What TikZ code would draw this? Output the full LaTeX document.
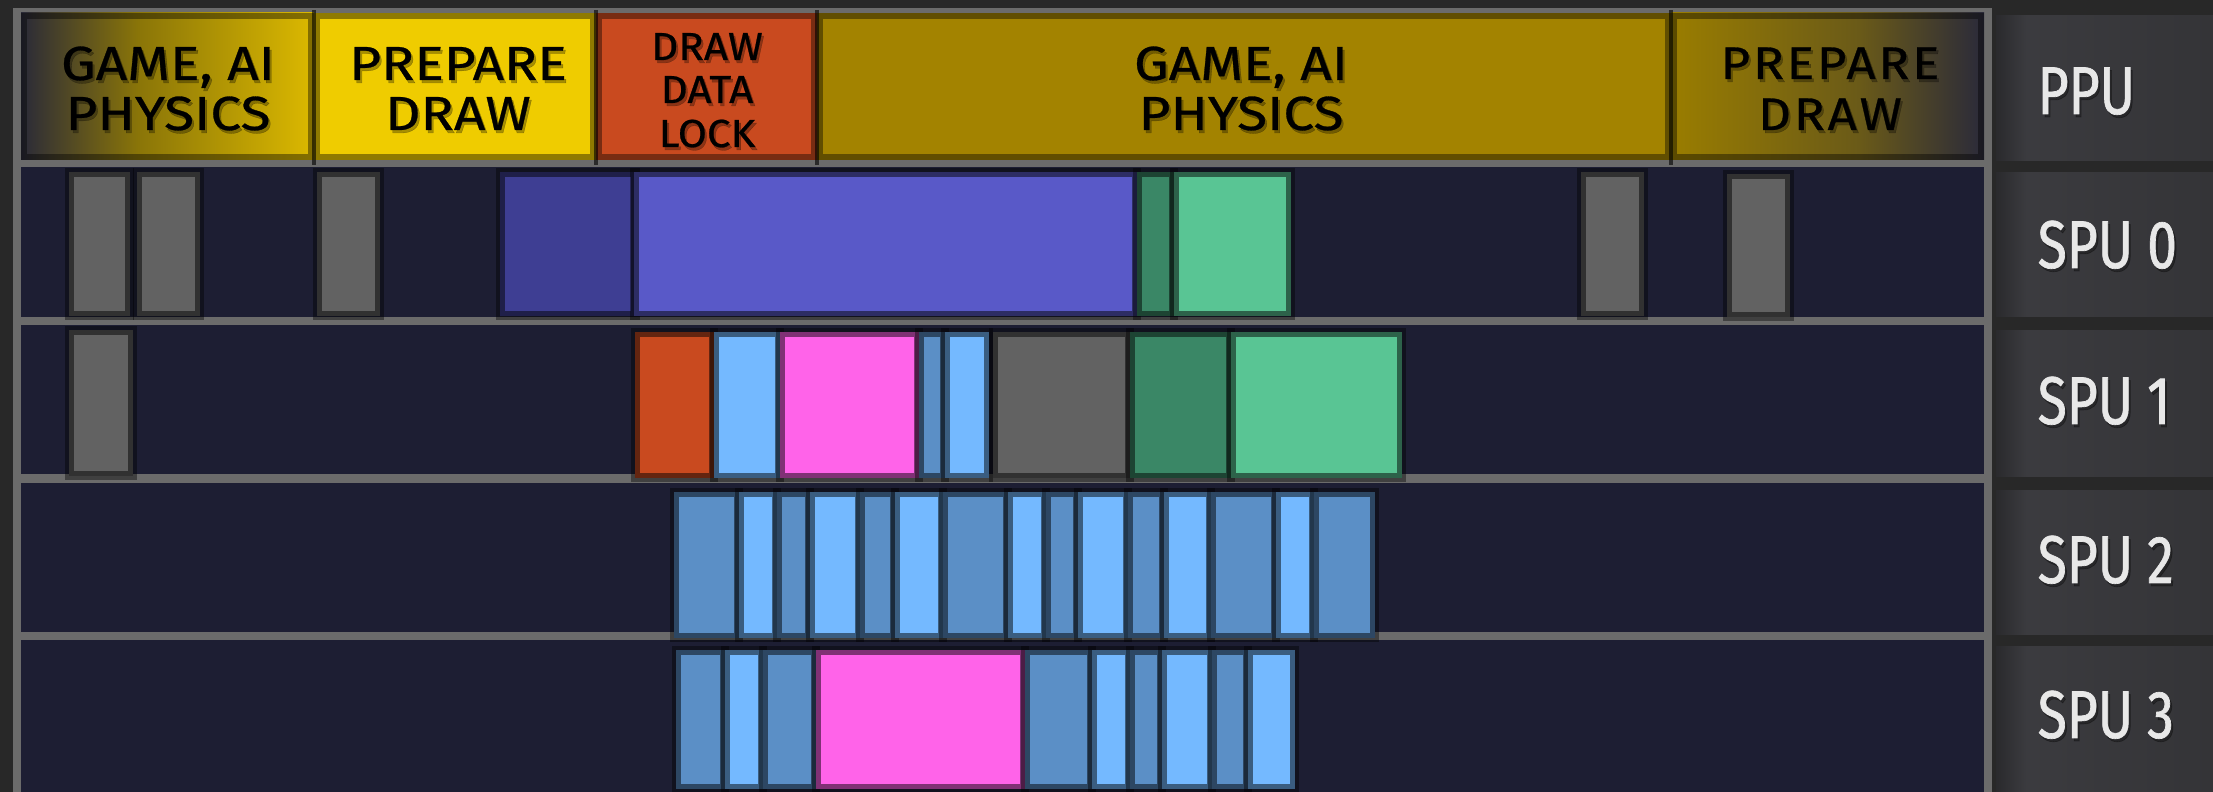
\documentclass[tikz,border=0pt]{standalone}
\usepackage{fontspec}
\setmainfont{Fira Sans}
\newfontfamily\boxfont{Fira Sans}[FakeStretch=1.15,FakeBold=0.6]
\newfontfamily\boxsmallfont{Fira Sans}[FakeStretch=1.08,FakeBold=0.6]
\newfontfamily\boxwidefont{Fira Sans}[FakeStretch=1.12,FakeBold=0.6,LetterSpace=6]
\newfontfamily\labfont{Fira Sans}[FakeStretch=0.79,FakeBold=1.0]
\definecolor{bgdark}{HTML}{282828}
\definecolor{linegray}{HTML}{6B6B6B}
\definecolor{navy}{HTML}{1D1E33}
\definecolor{pyellow}{HTML}{EFCC00}
\definecolor{porange}{HTML}{C94A1F}
\definecolor{pdyellow}{HTML}{A38300}
\definecolor{jgray}{HTML}{626262}
\definecolor{jdpurple}{HTML}{3E3E93}
\definecolor{jpurple}{HTML}{5959C8}
\definecolor{jdgreen}{HTML}{3A8766}
\definecolor{jlgreen}{HTML}{59C594}
\definecolor{jlblue}{HTML}{74B9FF}
\definecolor{jmblue}{HTML}{5B8FC6}
\definecolor{jmagenta}{HTML}{FF63E9}
\definecolor{jorange}{HTML}{C94A1F}
\definecolor{lbltext}{HTML}{E8E8E8}
\definecolor{gA}{HTML}{2A2A38}
\definecolor{gB}{HTML}{8A7508}
\definecolor{gC}{HTML}{DCB900}
\definecolor{pA}{HTML}{9A7D00}
\definecolor{pB}{HTML}{6A5A18}
\definecolor{pC}{HTML}{2A2A3A}
\definecolor{lA}{HTML}{2A2A2D}
\definecolor{lB}{HTML}{3B3B3F}
\definecolor{lC}{HTML}{343437}
\pgfdeclarehorizontalshading{gameshade}{100bp}{color(0bp)=(gA); color(25bp)=(gA); color(45bp)=(gB); color(75bp)=(gC); color(100bp)=(gC)}
\pgfdeclarehorizontalshading{prepshade}{100bp}{color(0bp)=(pA); color(25bp)=(pA); color(55bp)=(pB); color(75bp)=(pC); color(100bp)=(pC)}
\pgfdeclarehorizontalshading{labshade}{100bp}{color(0bp)=(lA); color(25bp)=(lA); color(32bp)=(lB); color(75bp)=(lC); color(100bp)=(lC)}
\tikzset{
  ppulbl/.style={font=\boxfont\fontsize{13.6}{15}\selectfont, text=black, inner sep=0pt, anchor=base},
  ppuwide/.style={font=\boxwidefont\fontsize{13.0}{15}\selectfont, text=black, inner sep=0pt, anchor=base},
  ppusmall/.style={font=\boxsmallfont\fontsize{11.1}{12}\selectfont, text=black, inner sep=0pt, anchor=base},
  unitlbl/.style={font=\labfont\fontsize{19.2}{20}\selectfont, text=lbltext, inner sep=0pt, anchor=base west},
  shd/.style={text=black, opacity=0.3},
  ppuring/.style={draw=black, draw opacity=0.4, line width=0.06cm},
}
\newcommand{\ttext}[5]{%
  \node[#2, shd] (#1s) at (#3+2,#4+3) {#5};
  \node[#2] (#1) at (#3,#4) {#5};
}
\newcommand{\job}[5]{%
  \fill[black, opacity=0.4] (#1-4,#3-4) rectangle (#2+4,#4+4);
  \fill[#5] (#1,#3) rectangle (#2,#4);
  \draw[#5!50!black, line width=0.05cm] (#1+2.5,#3+2.5) rectangle (#2-2.5,#4-2.5);
}
\begin{document}
\begin{tikzpicture}[x=0.01cm,y=-0.01cm]
\useasboundingbox (0,0) rectangle (2213,792);
\fill[bgdark] (0,0) rectangle (2213,792);
% main panel
\fill[linegray] (13,8) rectangle (1992,792);
\fill[navy] (21,13) rectangle (1984,792);
\foreach \a/\b in {160/167, 317/325, 474/483, 632/640}
  \fill[linegray] (21,\a) rectangle (1984,\b);
% label column
\foreach \a/\b in {16/161, 173/317, 331/477, 491/635, 647/792}
  \shade[shading=labshade] (1996,\a) rectangle (2213,\b);
% PPU row
\shade[shading=gameshade] (21,13) rectangle (314,160);
\fill[pyellow] (314,13) rectangle (596,160);
\fill[porange] (596,13) rectangle (817,160);
\fill[pdyellow] (817,13) rectangle (1671,160);
\shade[shading=prepshade] (1671,13) rectangle (1984,160);
\foreach \a/\b in {21/314, 314/596, 596/817, 817/1671, 1671/1984}
  \draw[ppuring] (\a+3,16) rectangle (\b-3,157);
\foreach \x in {314, 596, 817, 1671}
  \draw[black, opacity=0.6, line width=0.035cm] (\x,10) -- (\x,165);
\ttext{t1a}{ppulbl}{168}{80}{GAME, AI}
\ttext{t1b}{ppulbl}{168}{130}{PHYSICS}
\ttext{t2a}{ppulbl}{458}{80}{PREPARE}
\ttext{t2b}{ppulbl}{458}{130}{DRAW}
\ttext{t3a}{ppusmall}{707}{60}{DRAW}
\ttext{t3b}{ppusmall}{707}{103}{DATA}
\ttext{t3c}{ppusmall}{707}{147}{LOCK}
\ttext{t4a}{ppulbl}{1241}{80}{GAME, AI}
\ttext{t4b}{ppulbl}{1241}{130}{PHYSICS}
\ttext{t5a}{ppuwide}{1830}{79}{PREPARE}
\ttext{t5b}{ppuwide}{1830}{130}{DRAW}
% SPU 0
\job{69}{130}{172}{316}{jgray}
\job{137}{200}{172}{316}{jgray}
\job{317}{380}{172}{316}{jgray}
\job{500}{636}{172}{316}{jdpurple}
\job{634}{1137}{172}{316}{jpurple}
\job{1137}{1174}{172}{316}{jdgreen}
\job{1174}{1291}{172}{316}{jlgreen}
\job{1581}{1644}{172}{316}{jgray}
\job{1727}{1790}{174}{317}{jgray}
% SPU 1
\job{69}{133}{330}{476}{jgray}
\job{635}{714}{332}{478}{jorange}
\job{714}{780}{332}{478}{jlblue}
\job{780}{919}{332}{478}{jmagenta}
\job{919}{945}{332}{478}{jmblue}
\job{945}{989}{332}{478}{jlblue}
\job{993}{1130}{332}{478}{jgray}
\job{1130}{1231}{332}{478}{jdgreen}
\job{1231}{1402}{332}{478}{jlgreen}
% SPU 2
\foreach \a/\b/\c in {674/739/jmblue, 739/777/jlblue, 777/810/jmblue, 810/860/jlblue, 860/895/jmblue, 895/943/jlblue, 943/1008/jmblue, 1008/1046/jlblue, 1046/1078/jmblue, 1078/1128/jlblue, 1128/1164/jmblue, 1164/1211/jlblue, 1211/1276/jmblue, 1276/1314/jlblue, 1314/1375/jmblue}
  {\job{\a}{\b}{492}{638}{\c}}
% SPU 3
\foreach \a/\b/\c in {676/725/jmblue, 725/763/jlblue, 763/816/jmblue, 816/1025/jmagenta, 1025/1092/jmblue, 1092/1130/jlblue, 1130/1162/jmblue, 1162/1212/jlblue, 1212/1248/jmblue, 1248/1295/jlblue}
  {\job{\a}{\b}{650}{789}{\c}}
% unit labels
\ttext{u0}{unitlbl}{2037}{114}{PPU}
\ttext{u1}{unitlbl}{2037}{268}{SPU 0}
\ttext{u2}{unitlbl}{2037}{424}{SPU 1}
\ttext{u3}{unitlbl}{2037}{583}{SPU 2}
\ttext{u4}{unitlbl}{2037}{738}{SPU 3}
\end{tikzpicture}
\end{document}
